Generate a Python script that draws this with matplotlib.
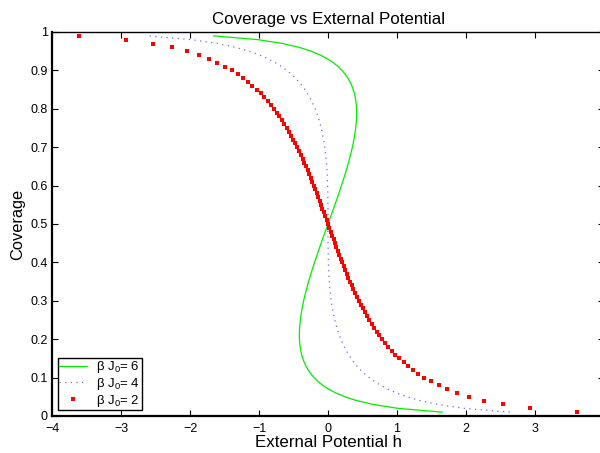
import matplotlib
matplotlib.use('Agg')
import matplotlib.pyplot as plt

plt.rcParams['font.family'] = ['Liberation Sans', 'DejaVu Sans']
plt.rcParams['mathtext.fontset'] = 'custom'
plt.rcParams['mathtext.rm'] = 'Liberation Sans'

# coverage values (same grid for all three curves)
theta = [0.01, 0.02, 0.03, 0.04, 0.05, 0.06, 0.07, 0.08, 0.09, 0.10,
         0.11, 0.12, 0.13, 0.14, 0.15, 0.16, 0.17, 0.18, 0.19, 0.20,
         0.21, 0.22, 0.23, 0.24, 0.25, 0.26, 0.27, 0.28, 0.29, 0.30,
         0.31, 0.32, 0.33, 0.34, 0.35, 0.36, 0.37, 0.38, 0.39, 0.40,
         0.41, 0.42, 0.43, 0.44, 0.45, 0.46, 0.47, 0.48, 0.49, 0.50,
         0.51, 0.52, 0.53, 0.54, 0.55, 0.56, 0.57, 0.58, 0.59, 0.60,
         0.61, 0.62, 0.63, 0.64, 0.65, 0.66, 0.67, 0.68, 0.69, 0.70,
         0.71, 0.72, 0.73, 0.74, 0.75, 0.76, 0.77, 0.78, 0.79, 0.80,
         0.81, 0.82, 0.83, 0.84, 0.85, 0.86, 0.87, 0.88, 0.89, 0.90,
         0.91, 0.92, 0.93, 0.94, 0.95, 0.96, 0.97, 0.98, 0.99]

# external potential h for beta*J0 = 6
h_j6 = [1.655, 1.012, 0.656, 0.418, 0.244, 0.112, 0.007, -0.078, -0.146, -0.203,
        -0.249, -0.288, -0.319, -0.345, -0.365, -0.382, -0.394, -0.404, -0.410, -0.414,
        -0.415, -0.414, -0.412, -0.407, -0.401, -0.394, -0.385, -0.376, -0.365, -0.353,
        -0.340, -0.326, -0.312, -0.297, -0.281, -0.265, -0.248, -0.231, -0.213, -0.195,
        -0.176, -0.157, -0.138, -0.119, -0.099, -0.080, -0.060, -0.040, -0.020, 0.0,
        0.020, 0.040, 0.060, 0.080, 0.099, 0.119, 0.138, 0.157, 0.176, 0.195,
        0.213, 0.231, 0.248, 0.265, 0.281, 0.297, 0.312, 0.326, 0.340, 0.353,
        0.365, 0.376, 0.385, 0.394, 0.401, 0.407, 0.412, 0.414, 0.415, 0.414,
        0.410, 0.404, 0.394, 0.382, 0.365, 0.345, 0.319, 0.288, 0.249, 0.203,
        0.146, 0.078, -0.007, -0.112, -0.244, -0.418, -0.656, -1.012, -1.655]

# beta*J0 = 4
h_j4 = [2.635, 1.972, 1.596, 1.338, 1.144, 0.992, 0.867, 0.762, 0.674, 0.597,
        0.531, 0.472, 0.421, 0.375, 0.335, 0.298, 0.266, 0.236, 0.210, 0.186,
        0.165, 0.146, 0.128, 0.113, 0.099, 0.086, 0.075, 0.065, 0.055, 0.047,
        0.040, 0.034, 0.028, 0.023, 0.019, 0.015, 0.012, 0.010, 0.007, 0.006,
        0.004, 0.003, 0.002, 0.001, 0.001, 0.000, 0.000, 0.000, 0.000, 0.0,
        -0.000, -0.000, -0.000, -0.000, -0.001, -0.001, -0.002, -0.003, -0.004, -0.006,
        -0.007, -0.010, -0.012, -0.015, -0.019, -0.023, -0.028, -0.034, -0.040, -0.047,
        -0.055, -0.065, -0.075, -0.086, -0.099, -0.113, -0.128, -0.146, -0.165, -0.186,
        -0.210, -0.236, -0.266, -0.298, -0.335, -0.375, -0.421, -0.472, -0.531, -0.597,
        -0.674, -0.762, -0.867, -0.992, -1.144, -1.338, -1.596, -1.972, -2.635]

# beta*J0 = 2
h_j2 = [3.615, 2.932, 2.536, 2.258, 2.044, 1.872, 1.727, 1.602, 1.494, 1.397,
        1.311, 1.232, 1.161, 1.095, 1.035, 0.978, 0.926, 0.876, 0.830, 0.786,
        0.745, 0.706, 0.668, 0.633, 0.599, 0.566, 0.535, 0.505, 0.475, 0.447,
        0.420, 0.394, 0.368, 0.343, 0.319, 0.295, 0.272, 0.250, 0.227, 0.206,
        0.184, 0.163, 0.142, 0.121, 0.101, 0.080, 0.060, 0.040, 0.020, 0.0,
        -0.020, -0.040, -0.060, -0.080, -0.101, -0.121, -0.142, -0.163, -0.184, -0.206,
        -0.227, -0.250, -0.272, -0.295, -0.319, -0.343, -0.368, -0.394, -0.420, -0.447,
        -0.475, -0.505, -0.535, -0.566, -0.599, -0.633, -0.668, -0.706, -0.745, -0.786,
        -0.830, -0.876, -0.926, -0.978, -1.035, -1.095, -1.161, -1.232, -1.311, -1.397,
        -1.494, -1.602, -1.727, -1.872, -2.044, -2.258, -2.536, -2.932, -3.615]

xticks = [-4, -3, -2, -1, 0, 1, 2, 3, 4]
xticklabels = ['\u22124', '\u22123', '\u22122', '\u22121', '0', '1', '2', '3', '']
yticks = [0, 0.1, 0.2, 0.3, 0.4, 0.5, 0.6, 0.7, 0.8, 0.9, 1]
yticklabels = ['0', '0.1', '0.2', '0.3', '0.4', '0.5', '0.6', '0.7', '0.8', '0.9', '1']

fig = plt.figure(figsize=(6.0, 4.53), dpi=100)
ax = fig.add_axes([52 / 600, 1 - 416 / 453, 552 / 600, 384 / 453])

ax.plot(h_j6, theta, '-', color='#00ee00', linewidth=0.9, label='\u03b2 J$_0$= 6')
ax.plot(h_j4, theta, linestyle=(0, (1, 3.5)), color='#6a6aff', linewidth=0.9,
        label='\u03b2 J$_0$= 4')
ax.plot(h_j2, theta, 's', color='#ff0000', markersize=2.6, markeredgewidth=0,
        label='\u03b2 J$_0$= 2')

ax.set_xlim(-4, 4)
ax.set_ylim(0, 1)
ax.set_xticks(xticks)
ax.set_yticks(yticks)
ax.set_xticklabels(xticklabels)
ax.set_yticklabels(yticklabels)
ax.tick_params(direction='in', length=4, labelsize=9, top=True, right=True)
ax.tick_params(axis='x', pad=5)
ax.tick_params(axis='y', pad=3)
for s in ['left', 'bottom']:
    ax.spines[s].set_linewidth(1.6)
for s in ['top', 'right']:
    ax.spines[s].set_linewidth(1.0)

ax.set_title('Coverage vs External Potential', fontsize=12.2, pad=6)
ax.set_xlabel('External Potential h', fontsize=12.2, labelpad=0)
ax.set_ylabel('Coverage', fontsize=11.8, labelpad=4)

leg = ax.legend(loc='lower left', fontsize=9.5, fancybox=False, framealpha=1,
                edgecolor='black', borderaxespad=0.45, handlelength=2.1,
                labelspacing=0.05, borderpad=0.1, handletextpad=0.7,
                markerscale=1.0)
leg.get_frame().set_linewidth(1.0)

fig.savefig('out.png', dpi=100)
